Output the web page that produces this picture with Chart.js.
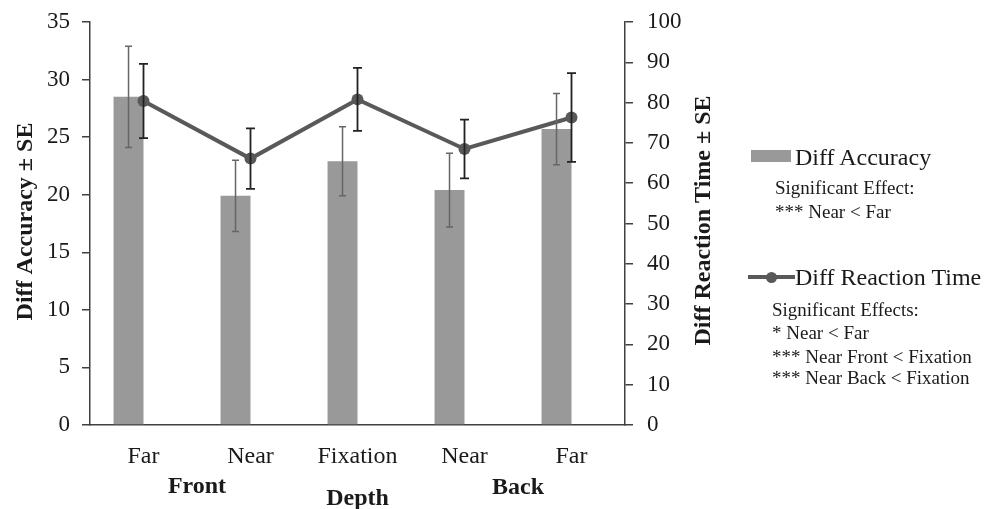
<!DOCTYPE html>
<html><head><meta charset="utf-8">
<script src="https://cdn.jsdelivr.net/npm/chart.js@4"></script>
<style>
html,body{margin:0;padding:0;background:#fff;}
#wrap{position:relative;width:989px;height:509px;overflow:hidden;}
canvas{display:block;}
.lg{position:absolute;font-family:"Liberation Serif","Times New Roman",serif;color:#1a1a1a;white-space:nowrap;}
.big{font-size:24px;line-height:24px;}
.small{font-size:19px;line-height:20px;}
</style></head><body>
<div id="wrap">
<canvas id="c" width="989" height="509"></canvas>
<div class="lg" style="left:751px;top:150px;width:40px;height:12px;background:#999999;"></div>
<div class="lg big" style="left:795px;top:145px;">Diff Accuracy</div>
<div class="lg small" style="left:775px;top:178px;">Significant Effect:</div>
<div class="lg small" style="left:775px;top:202px;">*** Near &lt; Far</div>
<div class="lg" style="left:748px;top:275px;width:47px;height:4px;background:#595959;"></div>
<div class="lg" style="left:766px;top:272px;width:11px;height:11px;border-radius:50%;background:#595959;"></div>
<div class="lg big" style="left:795px;top:265px;">Diff Reaction Time</div>
<div class="lg small" style="left:772px;top:300px;">Significant Effects:</div>
<div class="lg small" style="left:772px;top:323px;">* Near &lt; Far</div>
<div class="lg small" style="left:772px;top:347px;">*** Near Front &lt; Fixation</div>
<div class="lg small" style="left:772px;top:368px;">*** Near Back &lt; Fixation</div>
</div>
<script>
const categories = ['Far', 'Near', 'Fixation', 'Near', 'Far'];
const groupLabels = ['Front', 'Depth', 'Back'];
const accuracy = [28.5, 19.9, 22.9, 20.4, 25.7];
const accuracySE = [4.4, 3.1, 3.0, 3.2, 3.1];
const reactionTime = [80.4, 66.1, 80.8, 68.5, 76.3];
const reactionTimeSE = [9.2, 7.5, 7.8, 7.3, 11.0];
const accuracyAxis = {min: 0, max: 35, step: 5};
const reactionAxis = {min: 0, max: 100, step: 10};

Chart.defaults.font.family = '"Liberation Serif", "Times New Roman", serif';
Chart.defaults.color = '#1a1a1a';

const FONT = '"Liberation Serif", "Times New Roman", serif';

const errorBars = {
  id: 'errorBars',
  afterDatasetsDraw(chart) {
    const ctx = chart.ctx;
    const draw = (dsIndex, se, scaleId, color, lw, cap) => {
      const meta = chart.getDatasetMeta(dsIndex);
      const sc = chart.scales[scaleId];
      const vals = chart.data.datasets[dsIndex].data;
      ctx.save();
      ctx.strokeStyle = color;
      ctx.lineWidth = lw;
      meta.data.forEach((el, i) => {
        const x = el.x;
        const top = sc.getPixelForValue(vals[i] + se[i]);
        const bot = sc.getPixelForValue(vals[i] - se[i]);
        ctx.beginPath();
        ctx.moveTo(x, top); ctx.lineTo(x, bot);
        ctx.moveTo(x - cap, top); ctx.lineTo(x + cap, top);
        ctx.moveTo(x - cap, bot); ctx.lineTo(x + cap, bot);
        ctx.stroke();
      });
      ctx.restore();
    };
    draw(1, accuracySE, 'y', '#666666', 1.5, 3.5);
    draw(0, reactionTimeSE, 'y1', '#222222', 1.8, 4.5);
  }
};

const extraText = {
  id: 'extraText',
  afterDraw(chart) {
    const ctx = chart.ctx;
    const xs = chart.scales.x;
    const area = chart.chartArea;
    ctx.save();
    ctx.fillStyle = '#1a1a1a';
    ctx.font = 'bold 24px ' + FONT;
    ctx.textAlign = 'center';
    ctx.textBaseline = 'alphabetic';
    const p = i => xs.getPixelForValue(i);
    ctx.fillText(groupLabels[0], (p(0) + p(1)) / 2, 493);
    ctx.fillText(groupLabels[1], p(2), 505);
    ctx.fillText(groupLabels[2], (p(3) + p(4)) / 2, 494);
    const midY = (area.top + area.bottom) / 2;
    ctx.textBaseline = 'middle';
    ctx.save();
    ctx.translate(26, midY - 2);
    ctx.rotate(-Math.PI / 2);
    ctx.fillText('Diff Accuracy ± SE', 0, 0);
    ctx.restore();
    ctx.save();
    ctx.translate(704, midY - 3);
    ctx.rotate(-Math.PI / 2);
    ctx.fillText('Diff Reaction Time ± SE', 0, 0);
    ctx.restore();
    ctx.restore();
  }
};

function fixVertical(width) {
  return function (s) { s.width = width; s.paddingTop = 0; s.paddingBottom = 0; };
}

new Chart(document.getElementById('c'), {
  type: 'bar',
  data: {
    labels: categories,
    datasets: [
      {
        type: 'line', label: 'Diff Reaction Time', data: reactionTime, yAxisID: 'y1',
        borderColor: '#595959', backgroundColor: '#595959', borderWidth: 4,
        pointRadius: 6, pointBackgroundColor: '#595959', pointBorderWidth: 0,
        tension: 0, order: 0
      },
      {
        type: 'bar', label: 'Diff Accuracy', data: accuracy, yAxisID: 'y',
        backgroundColor: '#999999', borderWidth: 0, order: 1,
        categoryPercentage: 0.56, barPercentage: 1
      },
      {
        type: 'bar', label: '', data: categories.map(() => null), yAxisID: 'y',
        backgroundColor: 'rgba(0,0,0,0)', order: 1,
        categoryPercentage: 0.56, barPercentage: 1
      }
    ]
  },
  options: {
    responsive: false,
    animation: false,
    devicePixelRatio: 1,
    layout: {padding: {top: 22, left: 0, right: 0, bottom: 0}},
    plugins: {legend: {display: false}, tooltip: {enabled: false}},
    scales: {
      x: {
        grid: {display: false, drawTicks: false},
        border: {display: true, color: '#404040', width: 1.5},
        ticks: {font: {size: 24}, padding: 17, color: '#1a1a1a'},
        afterFit(s) { s.height = 84; s.paddingLeft = 0; s.paddingRight = 0; }
      },
      y: {
        position: 'left', min: accuracyAxis.min, max: accuracyAxis.max,
        grid: {drawOnChartArea: false, tickLength: 8, color: '#404040', lineWidth: 1.5},
        border: {display: true, color: '#404040', width: 1.5},
        ticks: {stepSize: accuracyAxis.step, font: {size: 23}, padding: 12, color: '#1a1a1a'},
        afterFit: fixVertical(90)
      },
      y1: {
        position: 'right', min: reactionAxis.min, max: reactionAxis.max,
        grid: {drawOnChartArea: false, tickLength: 8, color: '#404040', lineWidth: 1.5},
        border: {display: true, color: '#404040', width: 1.5},
        ticks: {stepSize: reactionAxis.step, font: {size: 23}, padding: 14, color: '#1a1a1a'},
        afterFit: fixVertical(364)
      }
    }
  },
  plugins: [errorBars, extraText]
});
</script>
</body></html>
